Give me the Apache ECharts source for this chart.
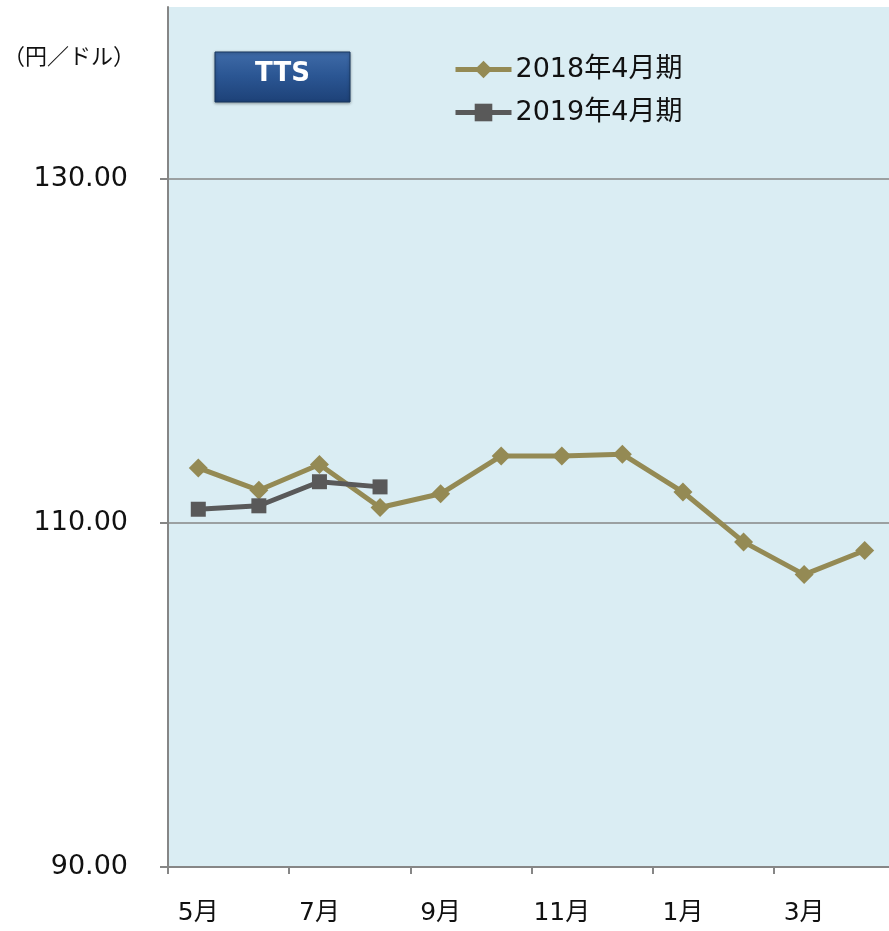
<!DOCTYPE html>
<html><head><meta charset="utf-8">
<script src="https://cdn.jsdelivr.net/npm/echarts@6/dist/echarts.min.js"></script>
<style>html,body{margin:0;padding:0;background:#fff;overflow:hidden}#c{width:895px;height:931px}</style>
</head><body><div id="c"></div>
<script>
const categories = ['5月','6月','7月','8月','9月','10月','11月','12月','1月','2月','3月','4月'];
const series2018Name = '2018年4月期';
const series2019Name = '2019年4月期';
const values2018 = [113.2, 111.9, 113.4, 110.9, 111.7, 113.9, 113.9, 114.0, 111.8, 108.9, 107.0, 108.4];
const values2019 = [110.8, 111.0, 112.4, 112.1];
const yMin = 90, yMax = 140, yStep = 20;
const yTicks = [90, 110, 130];
const unitLabel = '（円／ドル）';
const badgeText = 'TTS';

const font = '"DejaVu Sans", Verdana, "Noto Sans CJK JP", sans-serif';
const chart = echarts.init(document.getElementById('c'));
chart.setOption({
  animation: false,
  backgroundColor: '#ffffff',
  graphic: [
    { type: 'text', left: 3, top: 45, style: { text: unitLabel, fontSize: 22, fill: '#111', fontFamily: '"Noto Sans CJK JP", sans-serif' } },
    { type: 'rect', shape: { x: 215, y: 52, width: 135, height: 50 },
      style: { fill: new echarts.graphic.LinearGradient(0,0,0,1,[{offset:0,color:'#3F6BA8'},{offset:0.5,color:'#2A5592'},{offset:1,color:'#1D4177'}]), stroke: '#17375E', lineWidth: 1,
        shadowBlur: 3, shadowColor: 'rgba(0,0,0,0.35)', shadowOffsetY: 1 } },
    { type: 'text', x: 282.5, y: 74, style: { text: badgeText, fontSize: 26, fontWeight: 'bold', fill: '#ffffff', align: 'center', verticalAlign: 'middle', fontFamily: font } }
  ],
  grid: { left: 168, right: 0, top: 7, bottom: 64, show: true, backgroundColor: '#DAEDF3', borderWidth: 0, outerBoundsMode: 'none', containLabel: false },
  legend: {
    orient: 'vertical', left: 448, top: 51, itemWidth: 56, itemHeight: 22, itemGap: 16,
    textStyle: { fontSize: 27, color: '#111', fontFamily: font, padding: [0,0,0,-1] },
    lineStyle: { width: 5 },
    data: [series2018Name, series2019Name]
  },
  xAxis: {
    type: 'category', data: categories, boundaryGap: true,
    axisLine: { lineStyle: { color: '#868686', width: 2 } },
    axisTick: { show: true, length: 7, interval: 1, lineStyle: { color: '#868686', width: 2 } },
    axisLabel: { interval: 1, fontSize: 25, color: '#111', margin: 34, fontFamily: font }
  },
  yAxis: {
    type: 'value', min: yMin, max: yMax, interval: yStep,
    axisLine: { show: true, lineStyle: { color: '#868686', width: 2 } },
    axisTick: { show: true, length: 8, customValues: yTicks, lineStyle: { color: '#868686', width: 2 } },
    axisLabel: { showMaxLabel: false, fontSize: 27, color: '#111', margin: 40, fontFamily: font,
      formatter: v => v.toFixed(2) },
    splitLine: { show: true, lineStyle: { color: '#868686', width: 1.5 } }
  },
  series: [
    { name: series2018Name, type: 'line', data: values2018, symbol: 'diamond', symbolSize: 19,
      lineStyle: { color: '#948A54', width: 5 }, itemStyle: { color: '#948A54' }, z: 2 },
    { name: series2019Name, type: 'line', data: values2019, symbol: 'rect', symbolSize: 15,
      lineStyle: { color: '#595959', width: 5 }, itemStyle: { color: '#595959' }, z: 3 }
  ]
});
</script></body></html>
